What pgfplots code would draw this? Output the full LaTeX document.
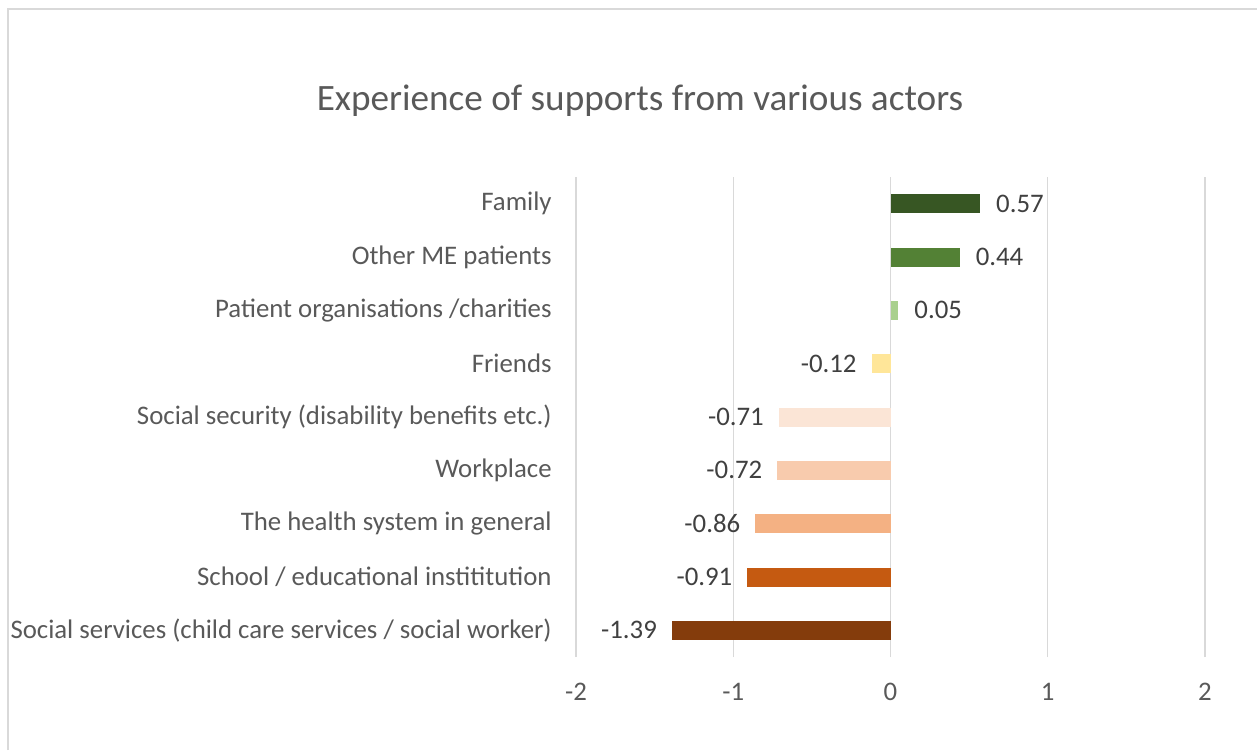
\documentclass[border=0pt]{standalone}
\usepackage{pgfplots}
\pgfplotsset{compat=1.18}
\usepackage{fontspec}
\setmainfont{Carlito}
\definecolor{txt}{HTML}{595959}
\definecolor{lbl}{HTML}{404040}
\definecolor{gridc}{HTML}{D9D9D9}
\definecolor{c0}{HTML}{843C0C}
\definecolor{c1}{HTML}{C55A11}
\definecolor{c2}{HTML}{F4B183}
\definecolor{c3}{HTML}{F8CBAD}
\definecolor{c4}{HTML}{FBE5D6}
\definecolor{c5}{HTML}{FFE699}
\definecolor{c6}{HTML}{A9D08E}
\definecolor{c7}{HTML}{538135}
\definecolor{c8}{HTML}{375623}
\begin{document}
\begin{tikzpicture}
% picture is 1257x750 px at 0.5pt per px, origin top left
\path[use as bounding box] (0,0) rectangle (628.5pt,-375pt);
\draw[gridc, line width=1pt] (4pt,-375pt) -- (4pt,-4.5pt) -- (628.5pt,-4.5pt);
\node[anchor=base, text=txt, font=\fontsize{18.6}{22}\selectfont] at (320pt,-55pt) {Experience of supports from various actors};
\begin{axis}[
    at={(288pt,-328.5pt)}, anchor=south west,
    scale only axis,
    width=314.5pt, height=240pt,
    xbar, bar width=9.5pt,
    xmin=-2, xmax=2,
    ymin=-0.5, ymax=8.5,
    xtick={-2,-1,0,1,2},
    xticklabels={-2,-1,0,1,2},
    ytick={0,...,8},
    yticklabels={
        {Social services (child care services / social worker)},
        {School / educational instititution},
        {The health system in general},
        {Workplace},
        {Social security (disability benefits etc.)},
        {Friends},
        {Patient organisations /charities},
        {Other ME patients},
        {Family}},
    axis line style={draw=none},
    major tick length=0pt,
    xmajorgrids,
    grid style={gridc, line width=0.7pt},
    tick label style={text=txt, font=\fontsize{13.4}{16}\selectfont},
    yticklabel style={inner sep=0pt, xshift=-12pt},
    xticklabel style={yshift=-9.5pt},
    point meta=explicit symbolic,
    nodes near coords,
    nodes near coords style={text=lbl, font=\fontsize{13.4}{16}\selectfont},
    pos/.style={draw=none, fill=#1, bar shift=0pt,
        every node near coord/.append style={anchor=west, xshift=4.5pt}},
    neg/.style={draw=none, fill=#1, bar shift=0pt,
        every node near coord/.append style={anchor=east, xshift=-4pt}},
]
\addplot[neg=c0] coordinates {(-1.39,0) [-1.39]};
\addplot[neg=c1] coordinates {(-0.91,1) [-0.91]};
\addplot[neg=c2] coordinates {(-0.86,2) [-0.86]};
\addplot[neg=c3] coordinates {(-0.72,3) [-0.72]};
\addplot[neg=c4] coordinates {(-0.71,4) [-0.71]};
\addplot[neg=c5] coordinates {(-0.12,5) [-0.12]};
\addplot[pos=c6] coordinates {(0.05,6) [0.05]};
\addplot[pos=c7] coordinates {(0.44,7) [0.44]};
\addplot[pos=c8] coordinates {(0.57,8) [0.57]};
\end{axis}
\end{tikzpicture}
\end{document}
